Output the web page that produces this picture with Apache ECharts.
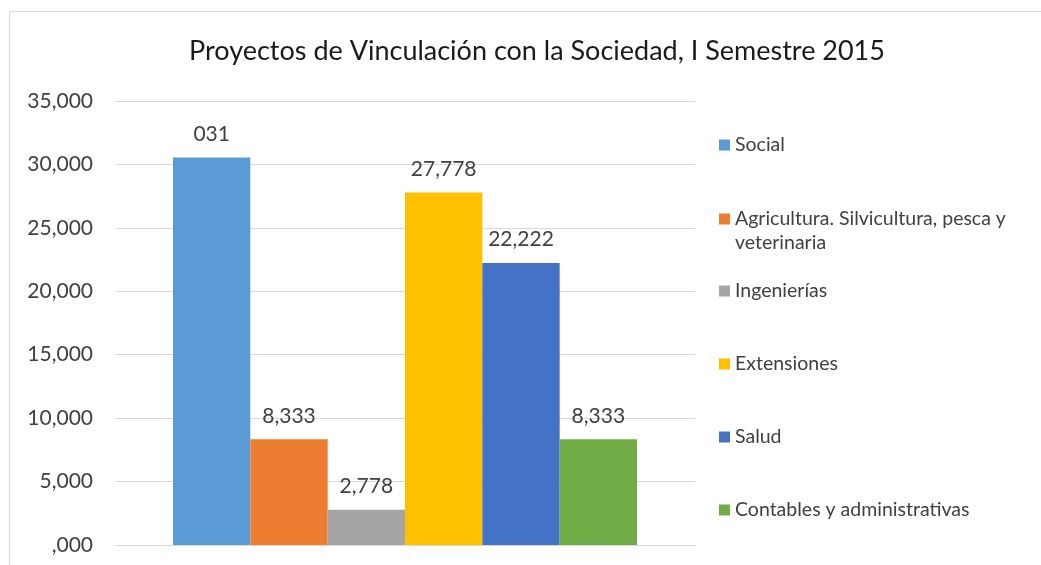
<!DOCTYPE html>
<html lang="es">
<head>
    <meta charset="UTF-8">
    <title>Proyectos de Vinculación</title>
    <script src="https://cdn.jsdelivr.net/npm/echarts@6/dist/echarts.min.js"></script>
    <style>
        html, body { margin: 0; padding: 0; background: #fff; }
        #chart { width: 1041px; height: 565px; }
    </style>
</head>
<body>
    <div id="chart"></div>
    <script>
        // datos del grafico
        var names = ['Social', 'Agricultura. Silvicultura, pesca y veterinaria', 'Ingenierías', 'Extensiones', 'Salud', 'Contables y administrativas'];
        var values = [30.556, 8.333, 2.778, 27.778, 22.222, 8.333];
        var labels = ['031', '8,333', '2,778', '27,778', '22,222', '8,333'];
        var colors = ['#5B9BD5', '#ED7D31', '#A5A5A5', '#FFC000', '#4472C4', '#70AD47'];
        var legendY = [144, 218, 290, 363, 436, 509];

        var font = 'Lato, "Open Sans", sans-serif';
        var chart = echarts.init(document.getElementById('chart'));

        var series = [];
        var legends = [];
        for (var i = 0; i < names.length; i++) {
            (function (i) {
                series.push({
                    name: names[i],
                    type: 'bar',
                    barGap: 0,
                    barCategoryGap: '20%',
                    itemStyle: { color: colors[i] },
                    label: {
                        show: true,
                        position: 'top',
                        distance: 13,
                        color: '#404040',
                        fontSize: 21,
                        fontFamily: font,
                        formatter: function () { return labels[i]; }
                    },
                    data: [values[i]]
                });
            })(i);
            var twoLine = names[i].indexOf('pesca y ') >= 0;
            legends.push({
                data: [names[i]],
                orient: 'vertical',
                left: 714,
                top: legendY[i] - 16,
                itemWidth: 11,
                itemHeight: twoLine ? 35 : 11,
                icon: twoLine ? 'path://M0,0H11V11H0Z M0,35H0.01V35.01H0Z' : 'rect',
                selectedMode: false,
                formatter: function (n) { return n.replace('pesca y ', 'pesca y\n'); },
                textStyle: { color: '#404040', fontSize: 19.5, fontFamily: font, lineHeight: 24 }
            });
        }

        var option = {
            animation: false,
            title: {
                text: 'Proyectos de Vinculación con la Sociedad, I Semestre 2015',
                left: 532,
                textAlign: 'center',
                top: 33,
                textStyle: { color: '#1a1a1a', fontSize: 27, fontWeight: 'normal', fontFamily: font }
            },
            graphic: [{
                type: 'rect',
                shape: { x: 9.5, y: 11.5, width: 1100, height: 600 },
                style: { fill: 'none', stroke: '#d9d9d9', lineWidth: 1 },
                silent: true
            }],
            legend: legends,
            grid: { left: 115, right: 346, top: 101, bottom: 20 },
            xAxis: {
                type: 'category',
                data: [''],
                axisLine: { lineStyle: { color: '#d9d9d9' } },
                axisTick: { show: false },
                axisLabel: { show: false }
            },
            yAxis: {
                type: 'value',
                min: 0,
                max: 35,
                interval: 5,
                axisLine: { show: false },
                axisTick: { show: false },
                splitLine: { lineStyle: { color: '#d9d9d9', width: 1 } },
                axisLabel: {
                    color: '#404040',
                    fontSize: 21,
                    fontFamily: font,
                    margin: 22,
                    formatter: function (v) {
                        var s = v.toFixed(3).replace('.', ',');
                        return s.indexOf('0,') === 0 ? s.substring(1) : s;
                    }
                }
            },
            series: series
        };
        chart.setOption(option);
    </script>
</body>
</html>
